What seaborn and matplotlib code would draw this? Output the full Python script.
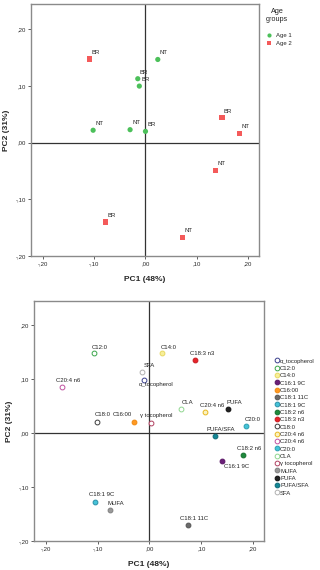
import pandas as pd
import seaborn as sns
import matplotlib.pyplot as plt
from matplotlib.lines import Line2D

# =============================================================================
# 1. DATA
# =============================================================================
# PCA scores of the samples (upper panel)
sample_labels = ['BR', 'NT', 'BR', 'BR', 'NT', 'NT', 'BR', 'BR', 'NT', 'NT', 'BR', 'NT']
sample_groups = ['Age 2', 'Age 1', 'Age 1', 'Age 1', 'Age 1', 'Age 1',
                 'Age 1', 'Age 2', 'Age 2', 'Age 2', 'Age 2', 'Age 2']
sample_pc1 = [-0.109, 0.024, -0.015, -0.012, -0.102, -0.030,
              0.000, 0.149, 0.184, 0.137, -0.078, 0.072]
sample_pc2 = [0.148, 0.147, 0.113, 0.100, 0.022, 0.023,
              0.020, 0.044, 0.016, -0.049, -0.140, -0.167]

# PCA loadings of the variables (lower panel)
var_names = ['α_tocopherol', 'C12:0', 'C14:0', 'C16:1 9C', 'C16:00', 'C18:1 11C',
             'C18:1 9C', 'C18:2 n6', 'C18:3 n3', 'C18:0', 'C20:4 n6', 'C20:4 n6',
             'C20:0', 'CLA', 'γ tocopherol', 'MUFA', 'PUFA', 'PUFA/SFA', 'SFA']
var_pc1 = [-0.010, -0.108, 0.025, 0.139, -0.029, 0.075, -0.105, 0.180, 0.088,
           -0.101, 0.107, -0.169, 0.187, 0.061, 0.002, -0.077, 0.151, 0.126, -0.014]
var_pc2 = [0.099, 0.148, 0.148, -0.051, 0.021, -0.170, -0.127, -0.041, 0.135,
           0.020, 0.040, 0.086, 0.014, 0.044, 0.019, -0.143, 0.044, -0.006, 0.113]

tick_values = [-0.2, -0.1, 0.0, 0.1, 0.2]
tick_labels = ['-,20', '-,10', ',00', ',10', ',20']

# marker styles (face, edge) per variable, same order as var_names
var_face = ['white', 'white', '#f7ef9a', '#6a1f78', '#ff9922', '#6b6b6b',
            '#45c3d8', '#1e8a3c', '#e8232a', 'white', '#fbf3c0', 'white',
            '#45c3d8', 'white', 'white', '#9a9a9a', '#222222', '#138795', 'white']
var_edge = ['#3a3f8c', '#3aa64a', '#e8d860', '#5a1666', '#f08a10', '#555555',
            '#2a8fa8', '#16702e', '#c81a20', '#3c3c3c', '#e8b820', '#c050a0',
            '#2a9fb0', '#8fd68f', '#b04060', '#808080', '#111111', '#0d6a78', '#b0b0b0']
# label offsets in pixels (dx, dy), dy positive = up
label_offsets = [(-6, -4.5), (-2, 6), (-1.5, 6), (2, -6), (-22, 7), (-8, 6),
                 (-6, 7.5), (-6, 6.5), (-5, 6.5), (-2, 7.5), (-5, 6.5), (-6, 6.5),
                 (-1.5, 6.5), (0.5, 6.5), (-11, 7.5), (-2.5, 6.5), (-1, 6.5),
                 (-8, 6.5), (1, 6.5)]

df_samples = pd.DataFrame({'label': sample_labels, 'group': sample_groups,
                           'PC1': sample_pc1, 'PC2': sample_pc2})

# =============================================================================
# 2. STYLE
# =============================================================================
sns.set_style('white')
plt.rcParams['font.family'] = ['Liberation Sans', 'DejaVu Sans']

fig = plt.figure(figsize=(3.2, 5.7), dpi=100)
ax1 = fig.add_axes([0.097, 0.551, 0.712, 0.442])
ax2 = fig.add_axes([0.106, 0.051, 0.719, 0.421])

small = 4.3


def style_axes(ax):
    ax.set_xlim(-0.223, 0.221)
    ax.set_ylim(-0.2, 0.245)
    ax.axhline(0, color='#333333', lw=0.9, zorder=1)
    ax.axvline(0, color='#333333', lw=0.9, zorder=1)
    ax.set_xticks(tick_values)
    ax.set_xticklabels(tick_labels)
    ax.set_yticks(tick_values)
    ax.set_yticklabels(tick_labels)
    ax.tick_params(axis='both', labelsize=small, length=2, width=0.6,
                   color='#444444', pad=1.5, direction='out',
                   bottom=True, left=True)
    for sp in ax.spines.values():
        sp.set_color('#8a8a8a')
        sp.set_linewidth(1.0)
    ax.set_xlabel('PC1 (48%)', fontsize=6, fontweight='bold', labelpad=7)
    ax.set_ylabel('PC2 (31%)', fontsize=6, fontweight='bold', labelpad=4)


# =============================================================================
# 3. UPPER PANEL: SAMPLE SCORES
# =============================================================================
sns.scatterplot(data=df_samples, x='PC1', y='PC2', hue='group', style='group',
                hue_order=['Age 1', 'Age 2'], style_order=['Age 1', 'Age 2'],
                palette={'Age 1': '#4cc05a', 'Age 2': '#f45a5a'},
                markers={'Age 1': 'o', 'Age 2': 's'}, s=14, linewidth=0,
                ax=ax1, zorder=3)
for lab, x, y in zip(sample_labels, sample_pc1, sample_pc2):
    ax1.annotate(lab, (x, y), xytext=(2, 6.7), textcoords='offset pixels',
                 ha='left', va='center', fontsize=small, color='#222222')
style_axes(ax1)
sns.move_legend(ax1, 'upper left', bbox_to_anchor=(1.0, 1.0),
                title='Age\ngroups\n', frameon=False, fontsize=small,
                title_fontsize=5.2, handletextpad=0.1, labelspacing=0.35,
                markerscale=0.8, borderaxespad=0.3, alignment='center')
ax1.get_legend().get_title().set_multialignment('center')

# =============================================================================
# 4. LOWER PANEL: VARIABLE LOADINGS
# =============================================================================
handles = []
for name, x, y, fc, ec, off in zip(var_names, var_pc1, var_pc2,
                                   var_face, var_edge, label_offsets):
    sns.scatterplot(x=[x], y=[y], color=fc, edgecolor=ec, linewidth=0.7,
                    s=12, marker='o', ax=ax2, zorder=3, legend=False)
    ax2.annotate(name, (x, y), xytext=off, textcoords='offset pixels',
                 ha='left', va='center', fontsize=small, color='#222222')
    handles.append(Line2D([], [], ls='none', marker='o', markersize=3.4,
                          markerfacecolor=fc, markeredgecolor=ec,
                          markeredgewidth=0.7, label=name))
style_axes(ax2)
ax2.legend(handles=handles, loc='center left', bbox_to_anchor=(1.0, 0.475),
           frameon=False, fontsize=small, handlelength=0.8,
           handletextpad=0.2, labelspacing=0.36, borderaxespad=1.3)

fig.savefig('out.png', dpi=100)
